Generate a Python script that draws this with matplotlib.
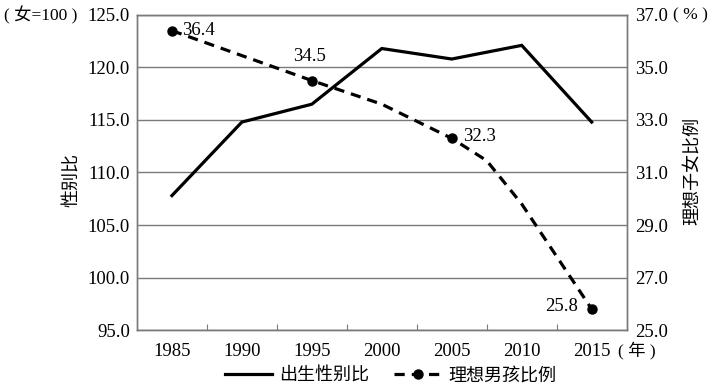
import matplotlib
matplotlib.use("Agg")
import matplotlib.pyplot as plt
from matplotlib.lines import Line2D

years = ["1985", "1990", "1995", "2000", "2005", "2010", "2015"]
sex_ratio = [107.8, 114.8, 116.5, 121.8, 120.8, 122.1, 114.8]
# ideal-boy share (index positions incl. half steps)
boy_pos = [0, 1, 2, 3, 4, 4.5, 5, 5.5, 6]
boy_share = [36.4, 35.45, 34.5, 33.6, 32.3, 31.45, 29.8, 27.8, 25.8]
marker_pos = [0, 2, 4, 6]
marker_vals = [36.4, 34.5, 32.3, 25.8]
left_ticks = [95.0, 100.0, 105.0, 110.0, 115.0, 120.0, 125.0]
right_ticks = [25.0, 27.0, 29.0, 31.0, 33.0, 35.0, 37.0]

serif = ["Liberation Serif", "DejaVu Serif"]
mixed = ["Liberation Serif", "Noto Sans CJK SC", "DejaVu Sans"]
cjk = ["Noto Sans CJK SC", "DejaVu Sans"]
gray = "#7a7a7a"
fs = 13.5

fig = plt.figure(figsize=(7.17, 3.92), dpi=100)
ax = fig.add_axes([0.191, 0.158, 0.683, 0.804])
ax2 = ax.twinx()

x = list(range(len(years)))
ax.plot(x, sex_ratio, color="black", lw=2.3, solid_joinstyle="miter", zorder=3)
ax.set_xlim(-0.5, 6.5)
ax.set_ylim(95, 125)
ax.set_yticks(left_ticks)
ax.set_yticklabels([f"{v:.1f}" for v in left_ticks], fontfamily=serif, fontsize=fs)
ax.set_xticks([i + 0.5 for i in range(6)])
ax.set_xticklabels([])
ax.set_xticks(x, minor=True)
ax.set_xticklabels(years, minor=True, fontfamily=serif, fontsize=fs)
ax.tick_params(axis="x", which="major", direction="in", length=4, color=gray)
ax.tick_params(axis="x", which="minor", length=0, pad=9)
ax.tick_params(axis="y", length=0, pad=5)
ax.grid(axis="y", color=gray, lw=1.0)
ax.set_axisbelow(True)

ax2.plot(boy_pos, boy_share, color="black", lw=2.3, ls=(0, (3.2, 2.2)), zorder=3)
ax2.plot(marker_pos, marker_vals, ls="none", marker="o", ms=6.5, color="black", zorder=4)
ax2.set_ylim(25, 37)
ax2.set_yticks(right_ticks)
ax2.set_yticklabels([f"{v:.1f}" for v in right_ticks], fontfamily=serif, fontsize=fs)
ax2.tick_params(axis="y", length=0, pad=6)

for a in (ax, ax2):
    for s in a.spines.values():
        s.set_color(gray)
        s.set_linewidth(1.0)

# data labels
ax2.annotate("36.4", (0, 36.4), xytext=(7, 0), textcoords="offset points",
             ha="left", va="center", fontfamily=serif, fontsize=fs)
ax2.annotate("34.5", (2, 34.5), xytext=(-2, 11), textcoords="offset points",
             ha="center", va="bottom", fontfamily=serif, fontsize=fs)
ax2.annotate("32.3", (4, 32.3), xytext=(8, 1), textcoords="offset points",
             ha="left", va="center", fontfamily=serif, fontsize=fs)
ax2.annotate("25.8", (6, 25.8), xytext=(-10, 2), textcoords="offset points",
             ha="right", va="center", fontfamily=serif, fontsize=fs)

# axis titles / units
fig.text(0.005, 0.962, "( 女=100 )", ha="left", va="center", fontfamily=mixed, fontsize=12.5)
fig.text(0.1, 0.54, "性别比", ha="center", va="center", rotation=90, fontfamily=cjk, fontsize=13)
fig.text(0.965, 0.565, "理想子女比例", ha="center", va="center", rotation=90, fontfamily=cjk, fontsize=13)
fig.text(0.938, 0.962, "( % )", ha="left", va="center", fontfamily=mixed, fontsize=12.5)
fig.text(0.862, 0.105, "( 年 )", ha="left", va="center", fontfamily=mixed, fontsize=12.5)

handles = [
    Line2D([], [], color="black", lw=2.3),
    Line2D([], [], color="black", lw=2.3, ls=(0, (3.2, 2.2)), marker="o", ms=6.5),
]
fig.legend(handles, ["出生性别比", "理想男孩比例"], loc="center", bbox_to_anchor=(0.545, 0.043),
           ncol=2, frameon=False, prop={"family": cjk, "size": 13}, handlelength=2.6,
           columnspacing=1.4, handletextpad=0.4)

fig.savefig("out.png", dpi=100)
